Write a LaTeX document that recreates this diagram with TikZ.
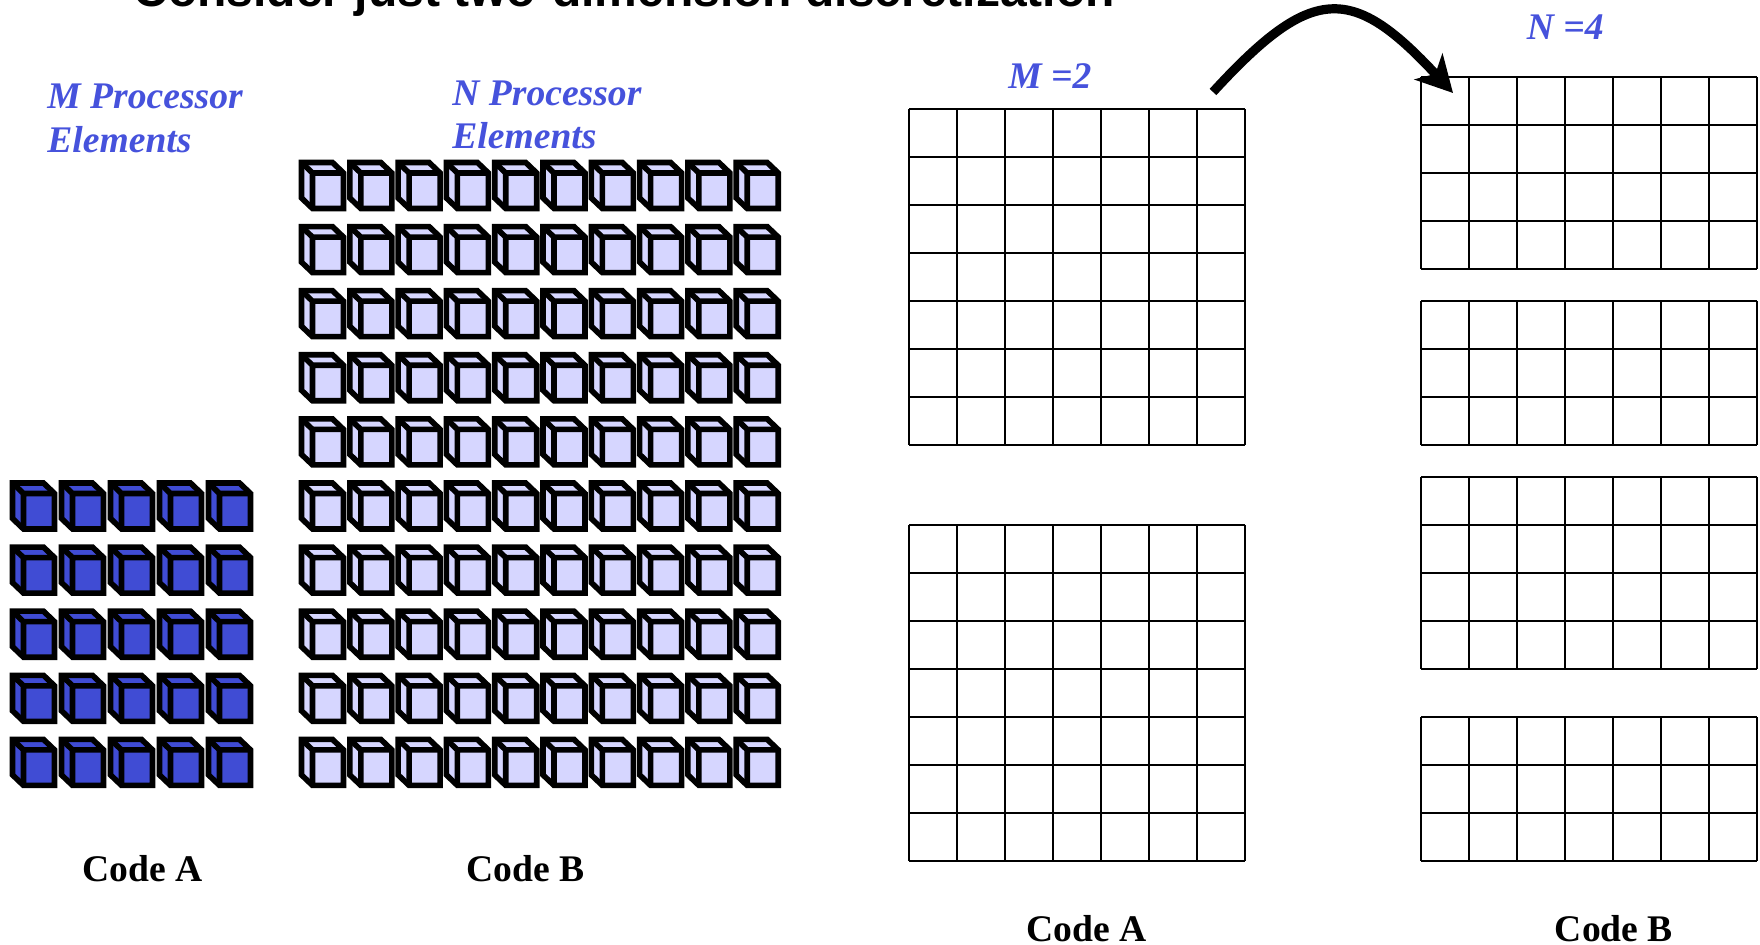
\documentclass[tikz,border=0pt]{standalone}
\usepackage{fontspec}
\setmainfont{Liberation Serif}
\newfontfamily\slidefont{Liberation Sans}
\usetikzlibrary{arrows.meta}
\definecolor{peblue}{RGB}{64,76,212}
\definecolor{pelight}{RGB}{214,214,255}
\definecolor{labelblue}{RGB}{70,82,220}
\tikzset{cubeline/.style={draw=black, line width=2.8pt},
         meshline/.style={draw=black, line width=1.1pt},
         caption/.style={anchor=base west, inner sep=0pt,
           font=\fontsize{18.8}{22}\selectfont\bfseries},
         pelabel/.style={caption, text=labelblue,
           font=\fontsize{18.8}{22}\selectfont\bfseries\itshape}}

% one processor element, back top-left corner at (#1,#2), fill #3
\newcommand{\pecube}[3]{
  \filldraw[cubeline, fill=#3] (#1,#2) -- ++(31,0) -- ++(11,10.5) -- ++(0,35.5)
    -- ++(-31,0) -- ++(-11,-10.5) -- cycle;
  \draw[cubeline] (#1,#2) -- ++(11,10.5) -- ++(31,0) (#1+11,#2+10.5) -- ++(0,35.5);
}
% block of mesh cells: left, top, number of rows (7 columns)
\newcommand{\meshblock}[3]{
  \foreach \i in {0,...,7} \draw[meshline] (#1+48*\i,#2) -- ++(0,48*#3);
  \foreach \j in {0,...,#3} \draw[meshline] (#1,#2+48*\j) -- ++(336,0);
}

\begin{document}
\begin{tikzpicture}[x=0.5pt,y=-0.5pt]
  \useasboundingbox (0,0) rectangle (1760,945);
  \clip (0,0) rectangle (1760,945);

  \node[anchor=base west, inner sep=0pt, font=\slidefont\bfseries\fontsize{24}{28}\selectfont]
    (slidetitle) at (133,6.5) {Consider just two-dimension discretization};

  % processors
  \foreach \i in {0,...,4} \foreach \j in {5,...,9} \pecube{12.5+49*\i}{162.5+64.1*\j}{peblue};
  \foreach \i in {0,...,9} \foreach \j in {0,...,9} \pecube{301.5+48.3*\i}{162.5+64.1*\j}{pelight};

  \node[pelabel] (mproc) at (47,109) {M Processor};
  \node[pelabel] (melem) at (47,153) {Elements};
  \node[pelabel] (nproc) at (452,105.5) {N Processor};
  \node[pelabel] (nelem) at (452,149) {Elements};
  \node[caption] (codeAcubes) at (82,881) {Code A};
  \node[caption] (codeBcubes) at (466,881) {Code B};

  % domain split over M and N
  \meshblock{909}{109}{7}
  \meshblock{909}{525}{7}
  \meshblock{1421}{77}{4}
  \meshblock{1421}{301}{3}
  \meshblock{1421}{477}{4}
  \meshblock{1421}{717}{3}

  \node[pelabel] (mcount) at (1008,88.7) {M =2};
  \node[pelabel] (ncount) at (1526.5,40) {N =4};
  \node[caption] (codeAmesh) at (1026,941) {Code A};
  \node[caption] (codeBmesh) at (1554.5,941) {Code B};

  \coordinate (hopfrom) at (1213,92);
  \coordinate (hopto) at (1453,93);
  \draw[line width=4.6pt, -{Stealth[length=18pt,width=19pt,inset=5pt]}]
    (hopfrom) .. controls (1312,-16) and (1352,-16) .. (hopto);
\end{tikzpicture}
\end{document}
